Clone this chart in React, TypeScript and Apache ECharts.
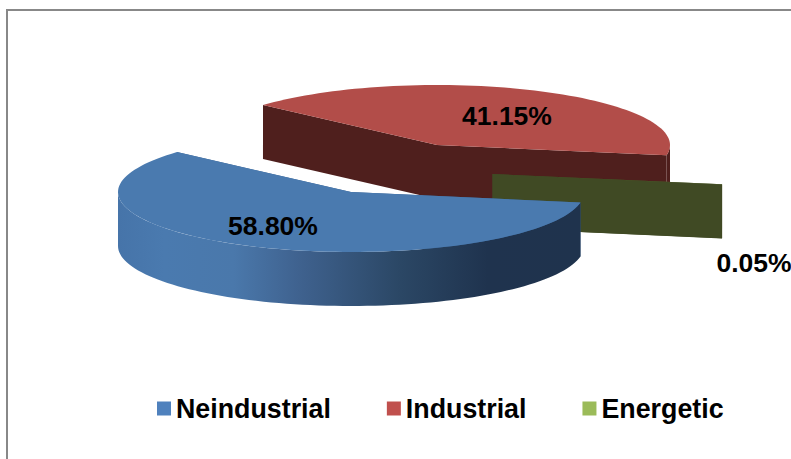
import React, { useEffect, useRef } from "react";
import * as echarts from "echarts";

// Data
const categories = ["Neindustrial", "Industrial", "Energetic"];
const shares = [58.8, 41.15, 0.05];
const legendColors = ["#4F81BD", "#C0504D", "#9BBB59"];

// Pie presentation
const FONT = '"Liberation Sans", Arial, sans-serif';
const START_ANGLE = 10;
const RX = 233;
const RY = 60;
const DEPTH = 54;
const centers = [
  [351, 192],
  [437, 145],
  [492.5, 174],
];
const labelPositions = [
  [273, 226],
  [507, 116],
  [754, 263],
];
const topColors = ["#4A7AAF", "#B24D49", "#5A6B33"];
const wallColors = ["#3A6290", "#4F1F1D", "#404A24"];
const paintOrder = [1, 2, 0];

const rad = (d: number) => (d * Math.PI) / 180;

function sliceRange(index: number): [number, number] {
  const total = shares.reduce((a, b) => a + b, 0);
  const before = shares.slice(0, index).reduce((a, b) => a + b, 0);
  const a0 = START_ANGLE + (before / total) * 360;
  return [a0, a0 + (shares[index] / total) * 360];
}

function rimPoint(c: number[], t: number, dz = 0): number[] {
  return [c[0] + RX * Math.cos(rad(t)), c[1] + RY * Math.sin(rad(t)) + dz];
}

function arcPoints(c: number[], a0: number, a1: number, dz = 0): number[][] {
  const n = Math.max(1, Math.ceil(Math.abs(a1 - a0) / 2));
  const pts: number[][] = [];
  for (let i = 0; i <= n; i++) pts.push(rimPoint(c, a0 + ((a1 - a0) * i) / n, dz));
  return pts;
}

function rimGradient() {
  return new echarts.graphic.LinearGradient(0, 0, 1, 0, [
    { offset: 0, color: "#4674A9" },
    { offset: 0.1, color: "#4A7AAF" },
    { offset: 0.25, color: "#4A78AB" },
    { offset: 0.39, color: "#3F628F" },
    { offset: 0.61, color: "#2B4765" },
    { offset: 0.8, color: "#1F334E" },
    { offset: 1, color: "#1F334D" },
  ]);
}

function makeRenderItem(index: number) {
  return () => {
    const c = centers[index];
    const [a0, a1] = sliceRange(index);
    const children: any[] = [];
    const wall = wallColors[index];
    const poly = (points: number[][], fill: any) => ({
      type: "polygon",
      shape: { points },
      style: { fill, stroke: "none" },
    });
    // cut faces
    [a0, a1].forEach((a) => {
      const p = rimPoint(c, a);
      children.push(poly([c, p, [p[0], p[1] + DEPTH], [c[0], c[1] + DEPTH]], wall));
    });
    // outer rim: only the front half of the ellipse shows
    [0, 360].forEach((base) => {
      const from = Math.max(a0, base);
      const to = Math.min(a1, base + 180);
      if (to > from) {
        const top = arcPoints(c, from, to);
        const bottom = arcPoints(c, to, from, DEPTH);
        children.push(poly(top.concat(bottom), index === 0 ? rimGradient() : wall));
      }
    });
    // top face
    children.push(poly([c].concat(arcPoints(c, a0, a1)), topColors[index]));
    return { type: "group", children };
  };
}

function makeLabelItem(index: number) {
  return () => ({
    type: "text",
    style: {
      text: shares[index].toFixed(2) + "%",
      x: labelPositions[index][0],
      y: labelPositions[index][1],
      align: "center",
      verticalAlign: "middle",
      fill: "#000",
      font: `bold 26.5px ${FONT}`,
    },
  });
}

export default function App() {
  const ref = useRef<HTMLDivElement>(null);
  useEffect(() => {
    document.body.style.margin = "0";
    const chart = echarts.init(ref.current!, undefined, { renderer: "svg" });
    chart.setOption({
      animation: false,
      backgroundColor: "#fff",
      legend: {
        data: categories,
        left: 157,
        top: 395,
        orient: "horizontal",
        icon: "rect",
        itemWidth: 14,
        itemHeight: 14,
        itemGap: 56,
        padding: 0,
        selectedMode: false,
        textStyle: {
          fontFamily: FONT,
          fontWeight: "bold",
          fontSize: 26.8,
          color: "#000",
          padding: [0, 0, 0, 0],
        },
      },
      graphic: [
        {
          type: "rect",
          silent: true,
          shape: { x: 7, y: 10, width: 1000, height: 1000 },
          style: { fill: "none", stroke: "#888", lineWidth: 2 },
        },
      ],
      series: [
        ...paintOrder.map((i) => ({
          type: "custom",
          name: categories[i],
          coordinateSystem: "none",
          silent: true,
          z: 2,
          itemStyle: { color: legendColors[i] },
          data: [shares[i]],
          renderItem: makeRenderItem(i),
        })),
        ...paintOrder.map((i) => ({
          type: "custom",
          name: "label " + categories[i],
          coordinateSystem: "none",
          silent: true,
          z: 3,
          data: [shares[i]],
          renderItem: makeLabelItem(i),
        })),
      ],
    });
    return () => chart.dispose();
  }, []);
  return <div ref={ref} style={{ width: 791, height: 459 }} />;
}
